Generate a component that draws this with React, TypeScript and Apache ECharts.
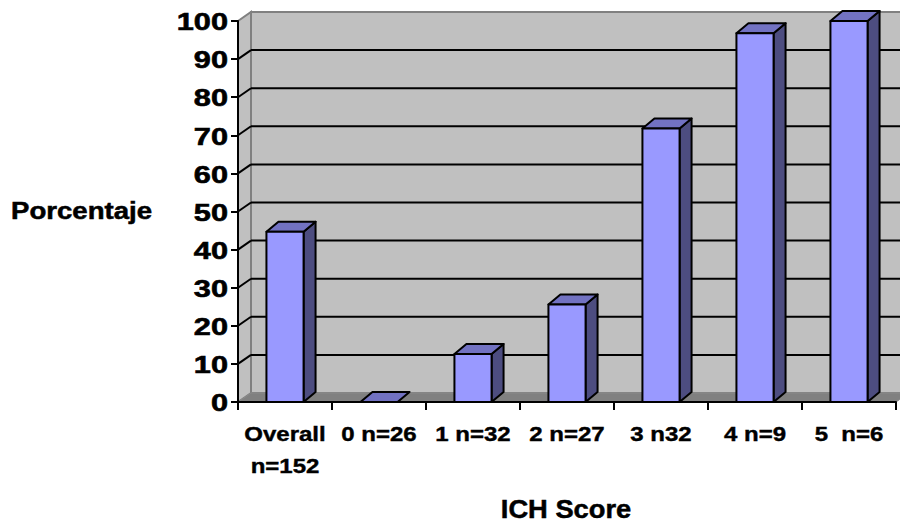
import React, { useEffect, useRef } from "react";
import * as echarts from "echarts";

const categories = ["Overall\nn=152", "0 n=26", "1 n=32", "2 n=27", "3 n32", "4 n=9", "5  n=6"];
const porcentaje = [44.7, 0, 12.6, 25.6, 71.8, 96.8, 100];
const yTicks = [0, 10, 20, 30, 40, 50, 60, 70, 80, 90, 100];
const yAxisTitle = "Porcentaje";
const xAxisTitle = "ICH Score";

const FONT = '"Liberation Sans", Arial, Helvetica, sans-serif';
const DX = 13;
const DY = -9;
const BDX = 12;
const BDY = -10;

const renderWalls = (params: any, api: any) => {
  const cs = params.coordSys;
  const x0 = cs.x;
  const x1 = cs.x + cs.width;
  const yTop = api.coord([0, 100])[1];
  const yBot = api.coord([0, 0])[1];
  const children: any[] = [];
  children.push({
    type: "rect",
    shape: { x: x0 + DX, y: yTop + DY, width: x1 - x0, height: yBot - yTop },
    style: { fill: "#C0C0C0", stroke: "#808080", lineWidth: 2 },
  });
  children.push({
    type: "polygon",
    shape: { points: [[x0, yTop], [x0 + DX, yTop + DY], [x0 + DX, yBot + DY], [x0, yBot]] },
    style: { fill: "#C0C0C0", stroke: "#808080", lineWidth: 2 },
  });
  children.push({
    type: "polygon",
    shape: { points: [[x0, yBot], [x1, yBot], [x1 + DX, yBot + DY], [x0 + DX, yBot + DY]] },
    style: { fill: "#808080", stroke: "#8A8A8A", lineWidth: 1 },
  });
  yTicks.forEach((v) => {
    if (v <= 0 || v >= 100) return;
    const y = api.coord([0, v])[1];
    children.push({
      type: "line",
      shape: { x1: x0 + DX, y1: y + DY, x2: x1 + DX, y2: y + DY },
      style: { stroke: "#000", lineWidth: 2 },
    });
    children.push({
      type: "line",
      shape: { x1: x0, y1: y, x2: x0 + DX, y2: y + DY },
      style: { stroke: "#000", lineWidth: 2 },
    });
  });
  return { type: "group", children };
};

const renderBar = (params: any, api: any) => {
  const i = api.value(0);
  const v = api.value(1);
  const p = api.coord([i, v]);
  const cx = p[0];
  const yT = p[1];
  const yB = api.coord([i, 0])[1];
  const w = api.size([1, 0])[0] * 0.395;
  const xl = cx - w / 2;
  const xr = cx + w / 2;
  const base = { stroke: "#000", lineWidth: 2, lineJoin: "round" };
  const children: any[] = [];
  if (yB - yT > 0.5) {
    children.push({
      type: "polygon",
      shape: { points: [[xr, yT], [xr + BDX, yT + BDY], [xr + BDX, yB + BDY], [xr, yB]] },
      style: { ...base, fill: "#4D4D80" },
    });
  }
  children.push({
    type: "polygon",
    shape: { points: [[xl, yT], [xr, yT], [xr + BDX, yT + BDY], [xl + BDX, yT + BDY]] },
    style: { ...base, fill: "#7272C2" },
  });
  if (yB - yT > 0.5) {
    children.push({
      type: "rect",
      shape: { x: xl, y: yT, width: w, height: yB - yT },
      style: { ...base, fill: "#9999FF" },
    });
  }
  return { type: "group", children };
};

const textBase = {
  fill: "#000",
  stroke: "#000",
  lineWidth: 0.6,
  fontWeight: "bold",
  fontFamily: FONT,
};

const renderYLabel = (params: any, api: any) => {
  const v = api.value(1);
  const y = api.coord([0, v])[1];
  return {
    type: "text",
    x: params.coordSys.x - 10,
    y: y + 1,
    scaleX: 1.28,
    style: {
      ...textBase,
      text: String(v),
      fontSize: 24,
      align: "right",
      verticalAlign: "middle",
    },
  };
};

const renderXLabel = (params: any, api: any) => {
  const i = api.value(0);
  const p = api.coord([i, 0]);
  return {
    type: "text",
    x: p[0],
    y: p[1] + 16,
    scaleX: 1.2,
    style: {
      ...textBase,
      lineWidth: 0.4,
      text: categories[i],
      fontSize: 20,
      align: "center",
      verticalAlign: "top",
      lineHeight: 32,
    },
  };
};

export default function App() {
  const ref = useRef<HTMLDivElement>(null);
  useEffect(() => {
    document.body.style.margin = "0";
    const chart = echarts.init(ref.current!, undefined, { renderer: "svg" });
    chart.setOption({
      animation: false,
      backgroundColor: "#FFFFFF",
      grid: { left: 238, right: 4, top: 21, bottom: 121 },
      xAxis: {
        type: "category",
        data: categories,
        z: 10,
        axisLine: { show: true, lineStyle: { color: "#000", width: 2 } },
        axisTick: { show: true, length: 8, interval: 0, lineStyle: { color: "#000", width: 2 } },
        axisLabel: { show: false },
        splitLine: { show: false },
      },
      yAxis: {
        type: "value",
        min: 0,
        max: 100,
        interval: 10,
        z: 10,
        axisLine: { show: true, lineStyle: { color: "#000", width: 2 } },
        axisTick: { show: true, length: 7, lineStyle: { color: "#000", width: 2 } },
        axisLabel: { show: false },
        splitLine: { show: false },
      },
      graphic: [
        {
          type: "text",
          x: 11,
          y: 211,
          scaleX: 1.2,
          style: {
            ...textBase,
            lineWidth: 0.5,
            text: yAxisTitle,
            fontSize: 23,
            align: "left",
            verticalAlign: "middle",
          },
        },
        {
          type: "text",
          x: 566,
          y: 509,
          scaleX: 1.05,
          style: {
            ...textBase,
            lineWidth: 0.5,
            text: xAxisTitle,
            fontSize: 26,
            align: "center",
            verticalAlign: "middle",
          },
        },
      ],
      series: [
        {
          type: "custom",
          name: "walls",
          z: -1,
          silent: true,
          renderItem: renderWalls,
          data: [[0, 0]],
          encode: { x: 0, y: 1 },
        },
        {
          type: "custom",
          name: "Porcentaje",
          z: 5,
          renderItem: renderBar,
          data: porcentaje.map((v, i) => [i, v]),
          encode: { x: 0, y: 1 },
        },
        {
          type: "custom",
          name: "yLabels",
          silent: true,
          renderItem: renderYLabel,
          data: yTicks.map((v) => [0, v]),
          encode: { x: 0, y: 1 },
        },
        {
          type: "custom",
          name: "xLabels",
          silent: true,
          renderItem: renderXLabel,
          data: categories.map((c, i) => [i, 0]),
          encode: { x: 0, y: 1 },
        },
      ],
    });
    return () => chart.dispose();
  }, []);
  return <div ref={ref} style={{ width: 900, height: 523 }} />;
}
